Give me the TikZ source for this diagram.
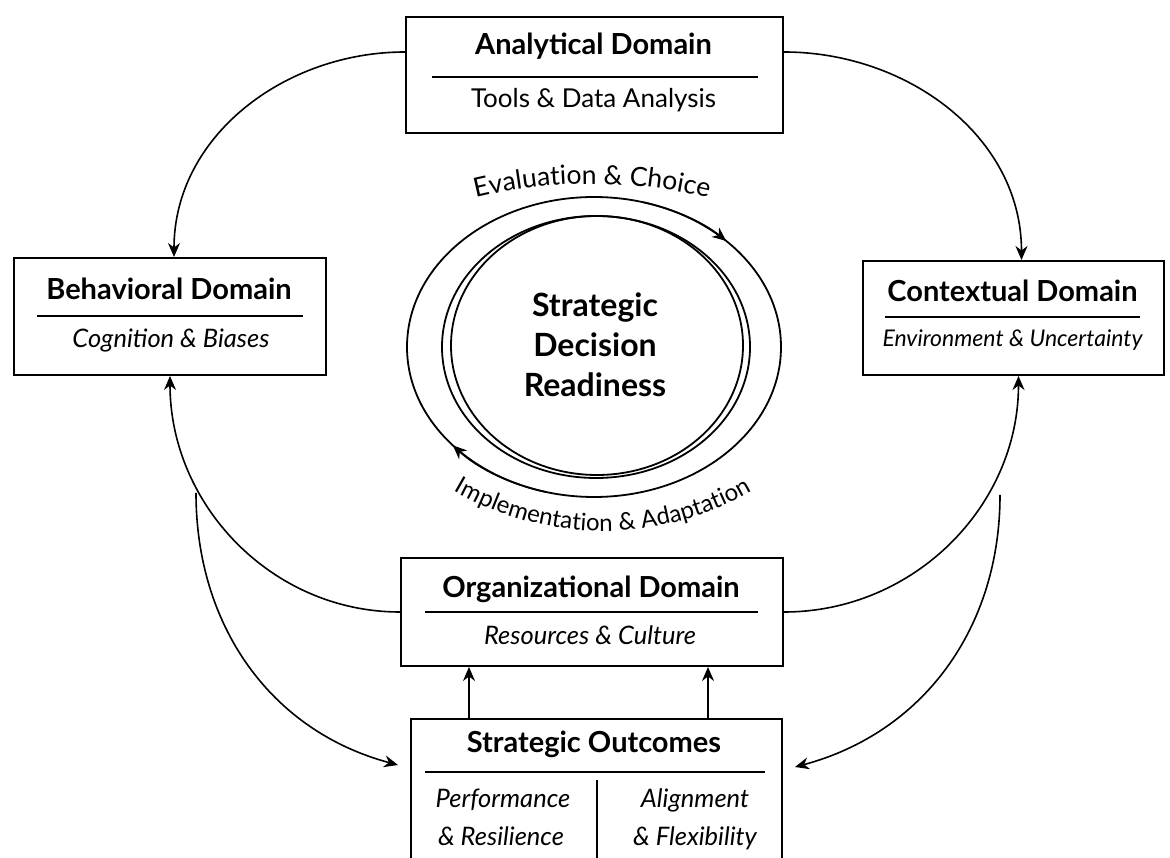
\documentclass[tikz,border=0pt]{standalone}
\usepackage{fontspec}
\setmainfont{Lato}
\usetikzlibrary{arrows.meta,decorations.text,calc}

\begin{document}
\begin{tikzpicture}[x=1pt,y=1pt,
  box/.style={draw, line width=2pt, anchor=north west, inner sep=0pt},
  rule/.style={line width=1.6pt},
  title/.style={anchor=base, inner sep=0pt, font=\fontsize{29}{34}\selectfont\bfseries},
  sub/.style={anchor=base, inner sep=0pt, font=\fontsize{26}{30}\selectfont},
  subit/.style={anchor=base, inner sep=0pt, font=\fontsize{25.5}{30}\selectfont\itshape},
  core/.style={anchor=base, inner sep=0pt, font=\fontsize{32}{36}\selectfont\bfseries},
  arr/.style={line width=1.6pt, -{Stealth[length=14pt,width=12pt]}},
  loop/.style={line width=1.8pt}]

\useasboundingbox (0,0) rectangle (1170,857);
\fill[white] (0,0) rectangle (1170,857);
\clip (0,0) rectangle (1170,857);

% ---- domain boxes ----
\node[box, minimum width=377pt, minimum height=116pt] (ana) at (405,841) {};
\draw[rule] (432,780) -- (758,780);
\node[title] (anaT) at (593.5,802) {Analytical Domain};
\node[sub]   (anaS) at (593.5,749) {Tools \& Data Analysis};

\node[box, minimum width=312pt, minimum height=117pt] (beh) at (13,600) {};
\draw[rule] (37,541) -- (303,541);
\node[title] (behT) at (169,557) {Behavioral Domain};
\node[subit] (behS) at (171,509) {Cognition \& Biases};

\node[box, minimum width=301pt, minimum height=114pt] (ctx) at (862,597) {};
\draw[rule] (885,540) -- (1140,540);
\node[title] (ctxT) at (1012.5,555) {Contextual Domain};
\node[subit, font=\fontsize{23}{28}\selectfont\itshape] (ctxS) at (1012.5,510) {Environment \& Uncertainty};

\node[box, minimum width=382pt, minimum height=108pt] (org) at (400,300) {};
\draw[rule] (425,245) -- (758,245);
\node[title] (orgT) at (591,259) {Organizational Domain};
\node[subit] (orgS) at (590,212) {Resources \& Culture};

\node[box, minimum width=371pt, minimum height=170pt] (so) at (410,139) {};
\draw[rule] (425,85) -- (765,85);
\draw[rule] (597,77) -- (597,-10);
\node[title] (soT) at (594,104) {Strategic Outcomes};
\node[subit] (soL1) at (503,49) {Performance};
\node[subit] (soL2) at (501,12) {\& Resilience};
\node[subit] (soR1) at (695,49) {Alignment};
\node[subit] (soR2) at (695,12) {\& Flexibility};

% ---- central cycle ----
\coordinate (cyc) at (594,510);
\draw[loop] (cyc) ellipse [x radius=187, y radius=150];
\draw[loop] (596,510) ellipse [x radius=154, y radius=131];
\draw[loop] (597,511.5) ellipse [x radius=146, y radius=129.5];
\draw[arr] ($(cyc)+(75:187 and 150)$) arc[start angle=75, end angle=45, x radius=187, y radius=150];
\draw[arr] ($(cyc)+(255:187 and 150)$) arc[start angle=255, end angle=221, x radius=187, y radius=150];

\node[core] (core1) at (595,540) {Strategic};
\node[core] (core2) at (595,500) {Decision};
\node[core] (core3) at (595,460) {Readiness};

\path[decorate, decoration={text along path, text align=center,
  text={|\fontsize{26.5}{30}\selectfont|Evaluation {\&} Choice}}]
  ($(592,176)+(112:497)$) arc[start angle=112, end angle=68, radius=497];
\path[decorate, decoration={text along path, text align=center,
  text={|\fontsize{24}{28}\selectfont|Implementation {\&} Adaptation}}]
  ($(603,622)+(222:296)$) arc[start angle=222, end angle=318, radius=296];

% ---- connectors ----
\coordinate (anaL) at ([yshift=-36pt]ana.north west);
\coordinate (anaR) at ([yshift=-36pt]ana.north east);
\coordinate (soUpL) at ([xshift=59pt]so.north west);
\coordinate (soUpR) at ([xshift=298pt]so.north west);
\draw[arr] (anaL) to[out=180,in=90] ([xshift=4pt]beh.north);
\draw[arr] (anaR) to[out=0,in=90] ([xshift=8pt]ctx.north);
\draw[arr] (org.west) to[out=180,in=-90] (beh.south);
\draw[arr] (org.east) to[out=0,in=-90] ([xshift=5pt]ctx.south);
\draw[arr] (soUpL) -- (soUpL |- org.south);
\draw[arr] (soUpR) -- (soUpR |- org.south);
\coordinate (bl) at (196,364);
\coordinate (br) at (1000,362);
\draw[arr] (bl) to[out=-90,in=165] ([xshift=-12pt,yshift=-47pt]so.north west);
\draw[arr] (br) to[out=-90,in=15] ([xshift=12pt,yshift=-49pt]so.north east);
\end{tikzpicture}
\end{document}
